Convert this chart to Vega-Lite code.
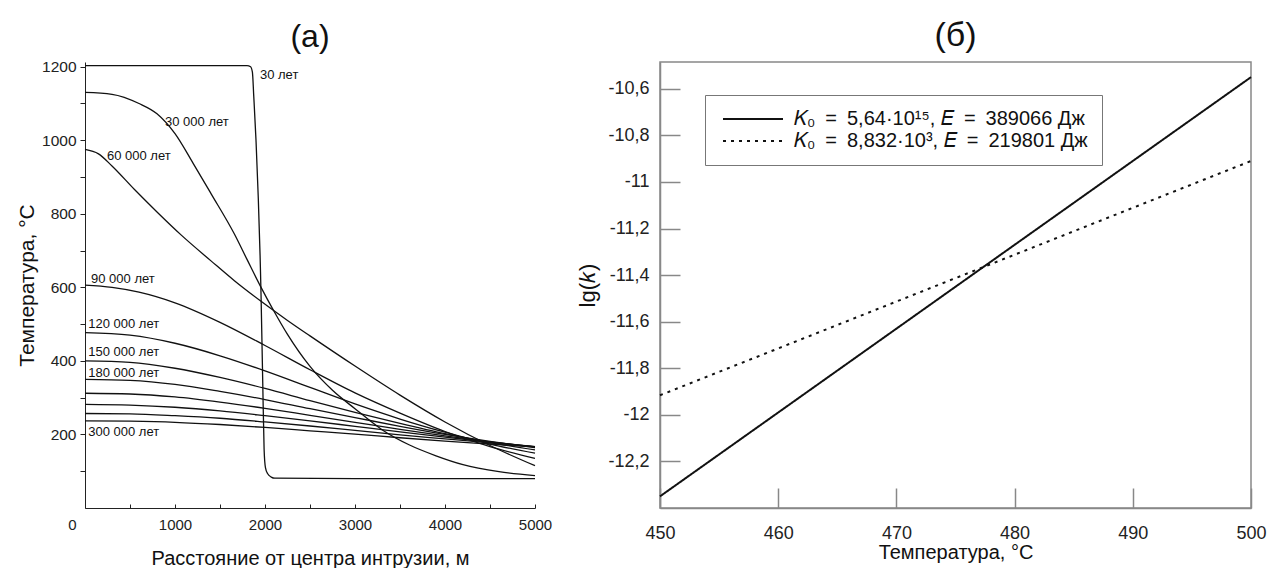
{
  "$schema": "https://vega.github.io/schema/vega-lite/v6.json",
  "autosize": {"type": "pad"},
  "padding": {"left": 16, "top": 17, "right": 3, "bottom": 0},
  "bounds": "flush",
  "spacing": 125,
  "background": "white",
  "config": {"font": "Liberation Sans", "view": {"stroke": null}},
  "datasets": {
    "profiles": [
      {"series": "30 лет", "x": 0, "T": 1203}, {"series": "30 лет", "x": 1000, "T": 1203}, {"series": "30 лет", "x": 1800, "T": 1203}, {"series": "30 лет", "x": 1840, "T": 1200}, {"series": "30 лет", "x": 1860, "T": 1185}, {"series": "30 лет", "x": 1875, "T": 1120}, {"series": "30 лет", "x": 1900, "T": 1000}, {"series": "30 лет", "x": 1956, "T": 580}, {"series": "30 лет", "x": 1975, "T": 340}, {"series": "30 лет", "x": 1990, "T": 160}, {"series": "30 лет", "x": 2005, "T": 110}, {"series": "30 лет", "x": 2030, "T": 93}, {"series": "30 лет", "x": 2070, "T": 84}, {"series": "30 лет", "x": 2110, "T": 81}, {"series": "30 лет", "x": 3000, "T": 80}, {"series": "30 лет", "x": 5000, "T": 80},
      {"series": "30000", "x": 0, "T": 1130}, {"series": "30000", "x": 300, "T": 1125}, {"series": "30000", "x": 600, "T": 1100}, {"series": "30000", "x": 800, "T": 1072}, {"series": "30000", "x": 1000, "T": 1018}, {"series": "30000", "x": 1200, "T": 938}, {"series": "30000", "x": 1400, "T": 855}, {"series": "30000", "x": 1660, "T": 745}, {"series": "30000", "x": 1800, "T": 676}, {"series": "30000", "x": 1956, "T": 600}, {"series": "30000", "x": 2100, "T": 535}, {"series": "30000", "x": 2250, "T": 472}, {"series": "30000", "x": 2500, "T": 385}, {"series": "30000", "x": 2750, "T": 320}, {"series": "30000", "x": 3000, "T": 270}, {"series": "30000", "x": 3300, "T": 213}, {"series": "30000", "x": 3600, "T": 172}, {"series": "30000", "x": 3900, "T": 142}, {"series": "30000", "x": 4200, "T": 118}, {"series": "30000", "x": 4600, "T": 99}, {"series": "30000", "x": 5000, "T": 88},
      {"series": "60000", "x": 0, "T": 975}, {"series": "60000", "x": 150, "T": 963}, {"series": "60000", "x": 300, "T": 930}, {"series": "60000", "x": 550, "T": 866}, {"series": "60000", "x": 800, "T": 805}, {"series": "60000", "x": 1070, "T": 742}, {"series": "60000", "x": 1400, "T": 672}, {"series": "60000", "x": 1660, "T": 618}, {"series": "60000", "x": 1956, "T": 562}, {"series": "60000", "x": 2250, "T": 510}, {"series": "60000", "x": 2500, "T": 468}, {"series": "60000", "x": 3000, "T": 386}, {"series": "60000", "x": 3500, "T": 307}, {"series": "60000", "x": 4000, "T": 234}, {"series": "60000", "x": 4500, "T": 170}, {"series": "60000", "x": 5000, "T": 115},
      {"series": "90000", "x": 0, "T": 606}, {"series": "90000", "x": 300, "T": 600}, {"series": "90000", "x": 600, "T": 587}, {"series": "90000", "x": 1000, "T": 558}, {"series": "90000", "x": 1500, "T": 505}, {"series": "90000", "x": 2000, "T": 442}, {"series": "90000", "x": 2500, "T": 376}, {"series": "90000", "x": 3000, "T": 313}, {"series": "90000", "x": 3500, "T": 258}, {"series": "90000", "x": 4000, "T": 208}, {"series": "90000", "x": 4500, "T": 167}, {"series": "90000", "x": 5000, "T": 135},
      {"series": "120000", "x": 0, "T": 477}, {"series": "120000", "x": 500, "T": 470}, {"series": "120000", "x": 1000, "T": 448}, {"series": "120000", "x": 1500, "T": 414}, {"series": "120000", "x": 2000, "T": 373}, {"series": "120000", "x": 2500, "T": 328}, {"series": "120000", "x": 3000, "T": 283}, {"series": "120000", "x": 3500, "T": 242}, {"series": "120000", "x": 4000, "T": 206}, {"series": "120000", "x": 4500, "T": 174}, {"series": "120000", "x": 5000, "T": 149},
      {"series": "150000", "x": 0, "T": 400}, {"series": "150000", "x": 500, "T": 396}, {"series": "150000", "x": 1000, "T": 380}, {"series": "150000", "x": 1500, "T": 355}, {"series": "150000", "x": 2000, "T": 325}, {"series": "150000", "x": 2500, "T": 292}, {"series": "150000", "x": 3000, "T": 260}, {"series": "150000", "x": 3500, "T": 230}, {"series": "150000", "x": 4000, "T": 202}, {"series": "150000", "x": 4500, "T": 178}, {"series": "150000", "x": 5000, "T": 158},
      {"series": "180000", "x": 0, "T": 350}, {"series": "180000", "x": 500, "T": 347}, {"series": "180000", "x": 1000, "T": 336}, {"series": "180000", "x": 1500, "T": 317}, {"series": "180000", "x": 2000, "T": 295}, {"series": "180000", "x": 2500, "T": 270}, {"series": "180000", "x": 3000, "T": 246}, {"series": "180000", "x": 3500, "T": 222}, {"series": "180000", "x": 4000, "T": 200}, {"series": "180000", "x": 4500, "T": 181}, {"series": "180000", "x": 5000, "T": 164},
      {"series": "210000", "x": 0, "T": 312}, {"series": "210000", "x": 500, "T": 310}, {"series": "210000", "x": 1000, "T": 302}, {"series": "210000", "x": 1500, "T": 288}, {"series": "210000", "x": 2000, "T": 271}, {"series": "210000", "x": 2500, "T": 252}, {"series": "210000", "x": 3000, "T": 233}, {"series": "210000", "x": 3500, "T": 214}, {"series": "210000", "x": 4000, "T": 196}, {"series": "210000", "x": 4500, "T": 180}, {"series": "210000", "x": 5000, "T": 166},
      {"series": "240000", "x": 0, "T": 282}, {"series": "240000", "x": 500, "T": 280}, {"series": "240000", "x": 1000, "T": 274}, {"series": "240000", "x": 1500, "T": 264}, {"series": "240000", "x": 2000, "T": 251}, {"series": "240000", "x": 2500, "T": 237}, {"series": "240000", "x": 3000, "T": 222}, {"series": "240000", "x": 3500, "T": 207}, {"series": "240000", "x": 4000, "T": 193}, {"series": "240000", "x": 4500, "T": 179}, {"series": "240000", "x": 5000, "T": 167},
      {"series": "270000", "x": 0, "T": 257}, {"series": "270000", "x": 500, "T": 256}, {"series": "270000", "x": 1000, "T": 251}, {"series": "270000", "x": 1500, "T": 244}, {"series": "270000", "x": 2000, "T": 234}, {"series": "270000", "x": 2500, "T": 223}, {"series": "270000", "x": 3000, "T": 211}, {"series": "270000", "x": 3500, "T": 199}, {"series": "270000", "x": 4000, "T": 188}, {"series": "270000", "x": 4500, "T": 177}, {"series": "270000", "x": 5000, "T": 167},
      {"series": "300000", "x": 0, "T": 237}, {"series": "300000", "x": 500, "T": 236}, {"series": "300000", "x": 1000, "T": 233}, {"series": "300000", "x": 1500, "T": 227}, {"series": "300000", "x": 2000, "T": 219}, {"series": "300000", "x": 2500, "T": 210}, {"series": "300000", "x": 3000, "T": 201}, {"series": "300000", "x": 3500, "T": 191}, {"series": "300000", "x": 4000, "T": 182}, {"series": "300000", "x": 4500, "T": 174}, {"series": "300000", "x": 5000, "T": 166}
    ],
    "labels": [
      {"label": "30 лет", "x": 1944, "T": 1177},
      {"label": "30 000 лет", "x": 889, "T": 1050},
      {"label": "60 000 лет", "x": 244, "T": 957},
      {"label": "90 000 лет", "x": 67, "T": 624},
      {"label": "120 000 лет", "x": 36, "T": 500},
      {"label": "150 000 лет", "x": 36, "T": 425},
      {"label": "180 000 лет", "x": 36, "T": 366},
      {"label": "300 000 лет", "x": 36, "T": 206}
    ],
    "lgk": [
      {"series": "𝐾₀ = 5,64·10¹⁵, 𝐸 = 389066 Дж", "T": 450, "lgk": -12.35},
      {"series": "𝐾₀ = 5,64·10¹⁵, 𝐸 = 389066 Дж", "T": 500, "lgk": -10.55},
      {"series": "𝐾₀ = 8,832·10³, 𝐸 = 219801 Дж", "T": 450, "lgk": -11.916},
      {"series": "𝐾₀ = 8,832·10³, 𝐸 = 219801 Дж", "T": 500, "lgk": -10.91}
    ]
  },
  "hconcat": [
    {
      "width": 450,
      "height": 446,
      "title": {"text": "(а)", "fontSize": 32, "fontWeight": "normal", "frame": "group", "anchor": "middle", "baseline": "alphabetic", "offset": -19, "color": "#111"},
      "layer": [
        {
          "data": {"name": "profiles"},
          "mark": {"type": "line", "interpolate": "monotone", "color": "#111", "strokeWidth": 1.3},
          "encoding": {
            "x": {"field": "x", "type": "quantitative", "scale": {"domain": [0, 5000], "nice": false},
              "axis": {"title": "Расстояние от центра интрузии, м", "values": [0, 500, 1000, 1500, 2000, 2500, 3000, 3500, 4000, 4500, 5000],
                "format": "d", "labelExpr": "datum.value % 1000 === 0 ? datum.label : ''",
                "labelOffset": {"condition": {"test": "datum.value === 0", "value": -13}, "value": 0},
                "tickSize": -4, "labelPadding": 13, "labelFontSize": 15, "labelFlush": false, "labelOverlap": false,
                "titleFontSize": 20, "titleFontWeight": "normal", "titlePadding": 16, "titleColor": "#111",
                "labelColor": "#222", "domainColor": "#222", "tickColor": "#222", "grid": false}},
            "y": {"field": "T", "type": "quantitative", "scale": {"domain": [0, 1212.8], "nice": false},
              "axis": {"title": "Температура, °C", "values": [100, 200, 300, 400, 500, 600, 700, 800, 900, 1000, 1100, 1200],
                "format": "d", "labelExpr": "datum.value % 200 === 0 ? datum.label : ''",
                "tickSize": 5, "labelPadding": 4, "labelFontSize": 15.5, "labelOverlap": false, "labelFlush": false,
                "titleFontSize": 21, "titleFontWeight": "normal", "titlePadding": 4, "titleColor": "#111",
                "labelColor": "#222", "domainColor": "#222", "tickColor": "#222", "grid": false}},
            "detail": {"field": "series", "type": "nominal"}
          }
        },
        {
          "data": {"name": "labels"},
          "mark": {"type": "text", "align": "left", "baseline": "middle", "fontSize": 13, "color": "#111"},
          "encoding": {
            "x": {"field": "x", "type": "quantitative"},
            "y": {"field": "T", "type": "quantitative"},
            "text": {"field": "label"}
          }
        }
      ]
    },
    {
      "width": 591,
      "height": 446,
      "view": {"stroke": "#888", "strokeWidth": 1.5},
      "title": {"text": "(б)", "fontSize": 34, "fontWeight": "normal", "frame": "group", "anchor": "middle", "baseline": "alphabetic", "offset": -17.5, "color": "#111"},
      "data": {"name": "lgk"},
      "mark": {"type": "line", "color": "#111", "strokeWidth": 2},
      "encoding": {
        "x": {"field": "T", "type": "quantitative", "scale": {"domain": [450, 500], "nice": false, "zero": false},
          "axis": {"title": "Температура, °C", "values": [450, 460, 470, 480, 490, 500], "format": "d",
            "tickSize": -20, "labelPadding": 36, "labelFontSize": 18, "labelFlush": false, "labelOverlap": false,
            "titleFontSize": 20, "titleFontWeight": "normal", "titlePadding": 0, "titleColor": "#111",
            "labelColor": "#222", "domainColor": "#888", "tickColor": "#888", "tickWidth": 1.5, "domainWidth": 1.5, "grid": false}},
        "y": {"field": "lgk", "type": "quantitative", "scale": {"domain": [-12.4, -10.485], "nice": false, "zero": false},
          "axis": {"title": "lg(𝑘)", "values": [-12.2, -12, -11.8, -11.6, -11.4, -11.2, -11, -10.8, -10.6],
            "labelExpr": "replace(toString(datum.value), '.', ',')",
            "tickSize": -20, "labelPadding": 31, "labelFontSize": 18, "labelFlush": false, "labelOverlap": false,
            "titleFontSize": 22, "titleFontWeight": "normal", "titlePadding": 8, "titleColor": "#111",
            "labelColor": "#222", "domainColor": "#888", "tickColor": "#888", "tickWidth": 1.5, "domainWidth": 1.5, "grid": false}},
        "strokeDash": {"field": "series", "type": "nominal",
          "scale": {"domain": ["𝐾₀ = 5,64·10¹⁵, 𝐸 = 389066 Дж", "𝐾₀ = 8,832·10³, 𝐸 = 219801 Дж"], "range": [[1, 0], [3, 5]]},
          "legend": {"orient": "none", "legendX": 620, "legendY": 33, "title": null, "strokeColor": "#777", "fillColor": "white",
            "padding": 14, "labelFontSize": 20, "labelLimit": 0, "labelColor": "#111", "labelOffset": 31,
            "labelExpr": "replace(replace(datum.label, ' = ', '\u2002=\u2002'), ' = ', '\u2002=\u2002')",
            "symbolType": "M-6,0H6", "symbolSize": 100, "symbolOffset": 24, "symbolStrokeWidth": 2, "symbolStrokeColor": "#111", "rowPadding": 2}}
      }
    }
  ]
}
